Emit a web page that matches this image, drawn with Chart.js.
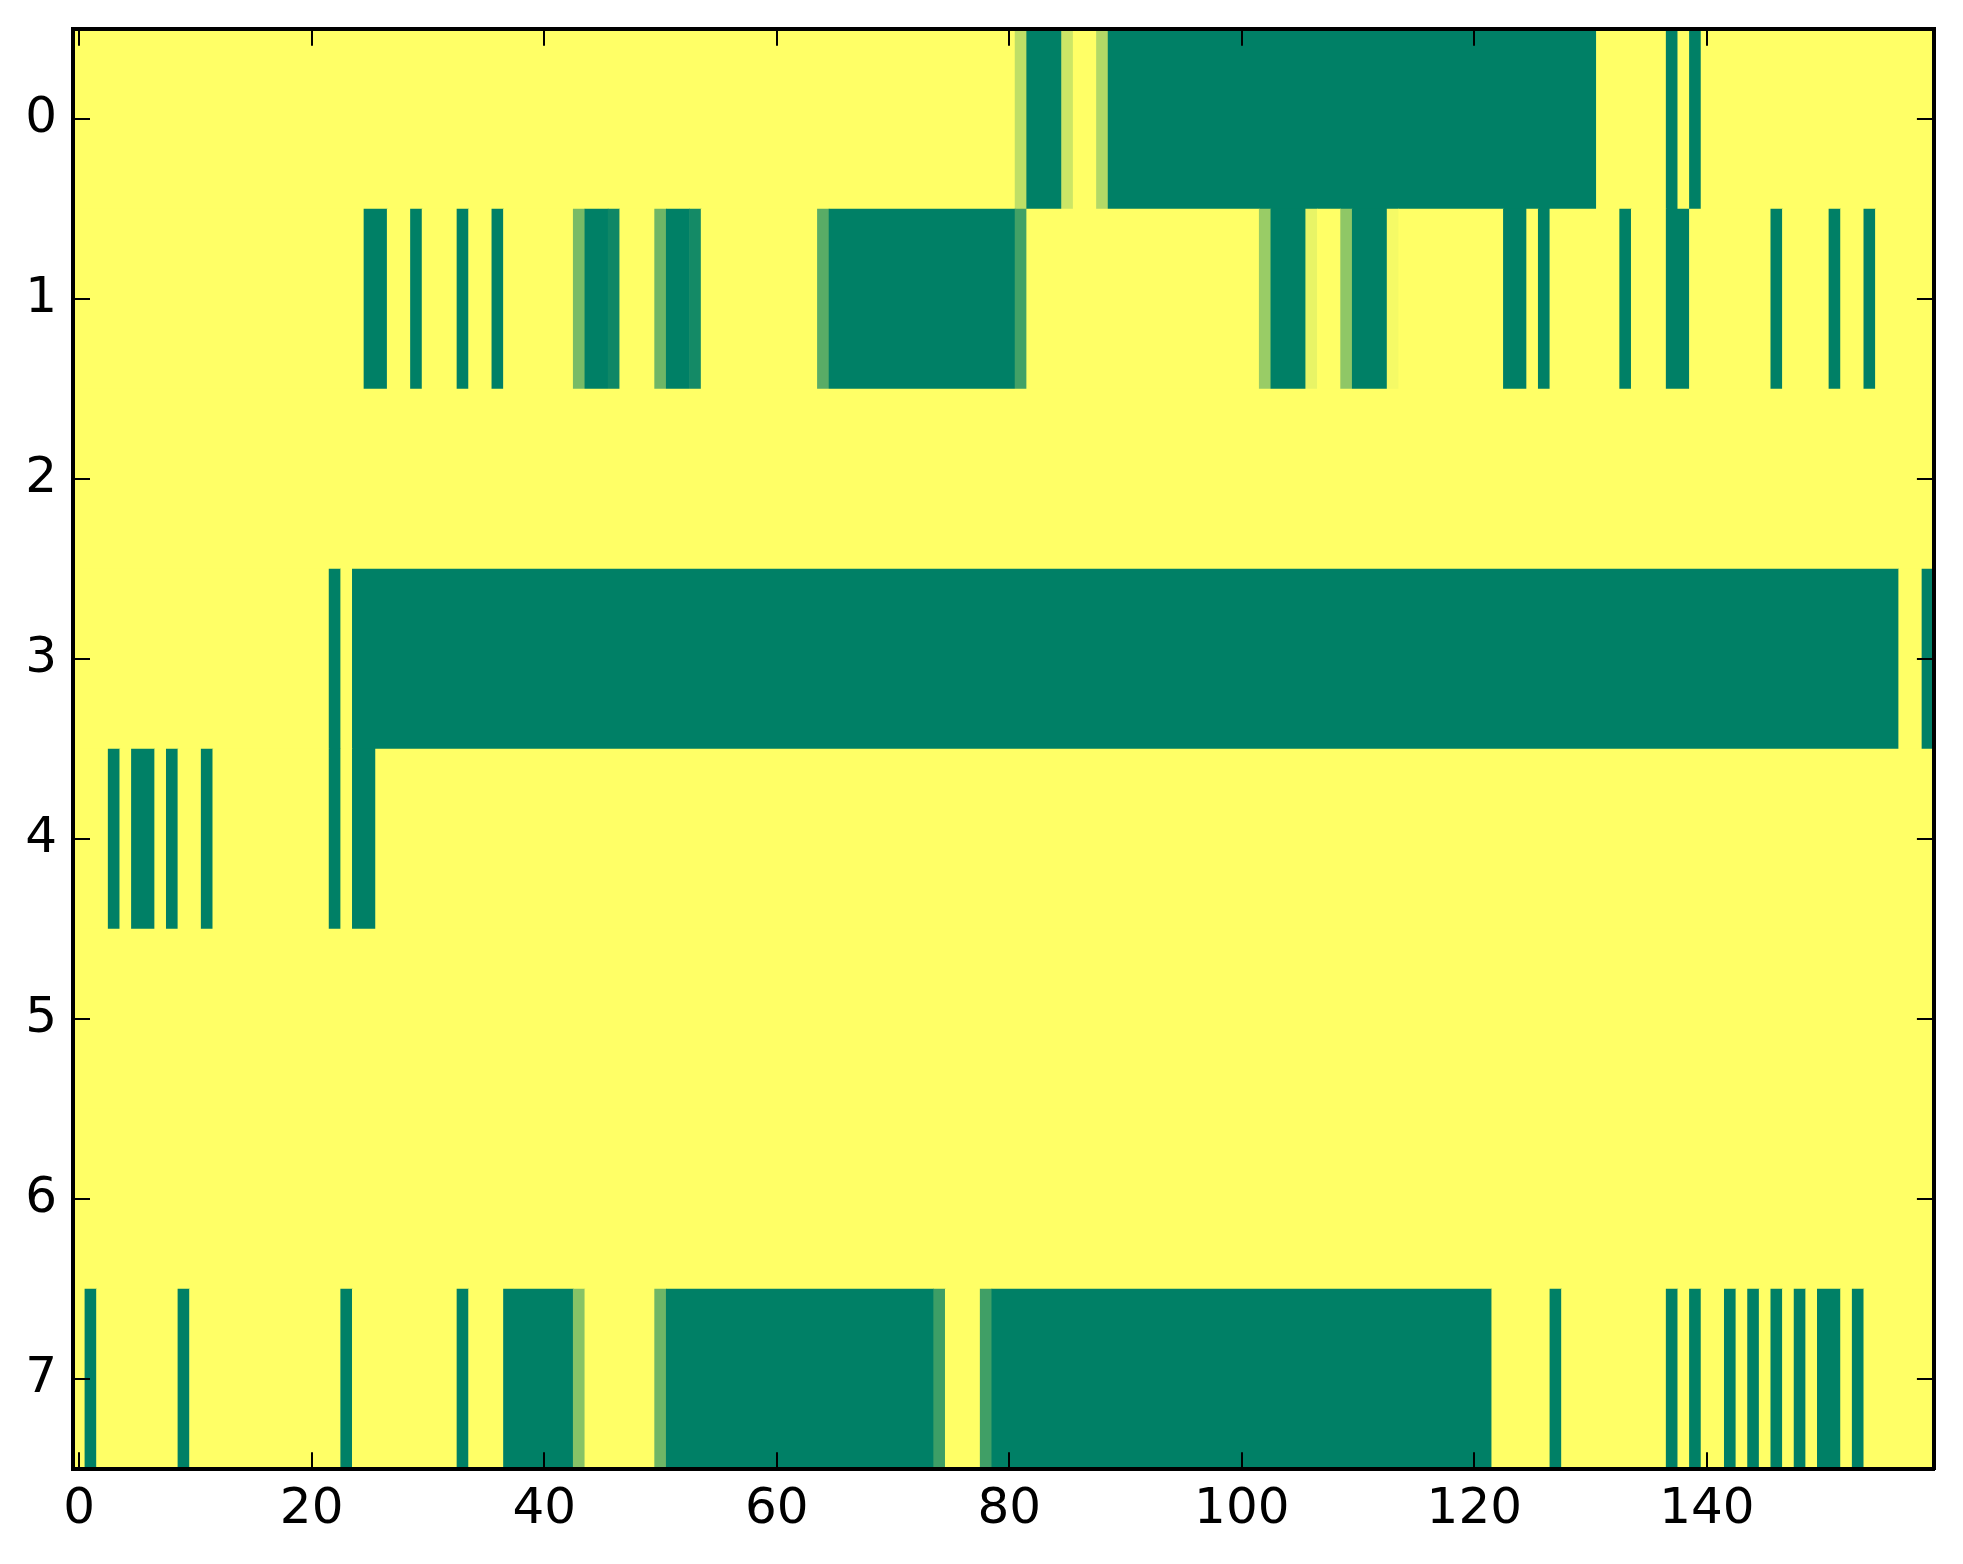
<!DOCTYPE html>
<html>
<head>
<meta charset="utf-8">
<script src="https://cdn.jsdelivr.net/npm/chart.js@4/dist/chart.umd.min.js"></script>
<style>
html,body{margin:0;padding:0;background:#ffffff;}
#wrap{width:1963px;height:1564px;}
</style>
</head>
<body>
<div id="wrap"><canvas id="c" width="1963" height="1564"></canvas></div>
<script>
// Row labels (y categories) and x tick values
const rowLabels = ['0','1','2','3','4','5','6','7'];
const xTicks = [0,20,40,60,80,100,120,140];

// Cell values (0 = green, 1 = yellow, "summer" colormap), 160 columns per row
const row0 = [
1,1,1,1,1,1,1,1,1,1, 1,1,1,1,1,1,1,1,1,1, 1,1,1,1,1,1,1,1,1,1, 1,1,1,1,1,1,1,1,1,1,
1,1,1,1,1,1,1,1,1,1, 1,1,1,1,1,1,1,1,1,1, 1,1,1,1,1,1,1,1,1,1, 1,1,1,1,1,1,1,1,1,1,
1,0.75,0,0,0,0.8,1,1,0.7,0, 0,0,0,0,0,0,0,0,0,0, 0,0,0,0,0,0,0,0,0,0, 0,0,0,0,0,0,0,0,0,0,
0,0,0,0,0,0,0,0,0,0, 0,1,1,1,1,1,1,0,1,0, 1,1,1,1,1,1,1,1,1,1, 1,1,1,1,1,1,1,1,1,1
];
const row1 = [
1,1,1,1,1,1,1,1,1,1, 1,1,1,1,1,1,1,1,1,1, 1,1,1,1,1,0,0,1,1,0, 1,1,1,0,1,1,0,1,1,1,
1,1,1,0.47,0,0,0.06,1,1,1, 0.43,0,0,0.08,1,1,1,1,1,1, 1,1,1,1,0.35,0,0,0,0,0, 0,0,0,0,0,0,0,0,0,0,
0,0.26,1,1,1,1,1,1,1,1, 1,1,1,1,1,1,1,1,1,1, 1,1,0.6,0,0,0,0.91,1,1,0.56, 0,0,0,0.96,1,1,1,1,1,1,
1,1,1,0,0,1,0,1,1,1, 1,1,1,0,1,1,1,0,0,1, 1,1,1,1,1,1,0,1,1,1, 1,0,1,1,0,1,1,1,1,1
];
const row2 = [
1,1,1,1,1,1,1,1,1,1, 1,1,1,1,1,1,1,1,1,1, 1,1,1,1,1,1,1,1,1,1, 1,1,1,1,1,1,1,1,1,1,
1,1,1,1,1,1,1,1,1,1, 1,1,1,1,1,1,1,1,1,1, 1,1,1,1,1,1,1,1,1,1, 1,1,1,1,1,1,1,1,1,1,
1,1,1,1,1,1,1,1,1,1, 1,1,1,1,1,1,1,1,1,1, 1,1,1,1,1,1,1,1,1,1, 1,1,1,1,1,1,1,1,1,1,
1,1,1,1,1,1,1,1,1,1, 1,1,1,1,1,1,1,1,1,1, 1,1,1,1,1,1,1,1,1,1, 1,1,1,1,1,1,1,1,1,1
];
const row3 = [
1,1,1,1,1,1,1,1,1,1, 1,1,1,1,1,1,1,1,1,1, 1,1,0,1,0,0,0,0,0,0, 0,0,0,0,0,0,0,0,0,0,
0,0,0,0,0,0,0,0,0,0, 0,0,0,0,0,0,0,0,0,0, 0,0,0,0,0,0,0,0,0,0, 0,0,0,0,0,0,0,0,0,0,
0,0,0,0,0,0,0,0,0,0, 0,0,0,0,0,0,0,0,0,0, 0,0,0,0,0,0,0,0,0,0, 0,0,0,0,0,0,0,0,0,0,
0,0,0,0,0,0,0,0,0,0, 0,0,0,0,0,0,0,0,0,0, 0,0,0,0,0,0,0,0,0,0, 0,0,0,0,0,0,0,1,1,0
];
const row4 = [
1,1,1,0,1,0,0,1,0,1, 1,0,1,1,1,1,1,1,1,1, 1,1,0,1,0,0,1,1,1,1, 1,1,1,1,1,1,1,1,1,1,
1,1,1,1,1,1,1,1,1,1, 1,1,1,1,1,1,1,1,1,1, 1,1,1,1,1,1,1,1,1,1, 1,1,1,1,1,1,1,1,1,1,
1,1,1,1,1,1,1,1,1,1, 1,1,1,1,1,1,1,1,1,1, 1,1,1,1,1,1,1,1,1,1, 1,1,1,1,1,1,1,1,1,1,
1,1,1,1,1,1,1,1,1,1, 1,1,1,1,1,1,1,1,1,1, 1,1,1,1,1,1,1,1,1,1, 1,1,1,1,1,1,1,1,1,1
];
const row5 = [
1,1,1,1,1,1,1,1,1,1, 1,1,1,1,1,1,1,1,1,1, 1,1,1,1,1,1,1,1,1,1, 1,1,1,1,1,1,1,1,1,1,
1,1,1,1,1,1,1,1,1,1, 1,1,1,1,1,1,1,1,1,1, 1,1,1,1,1,1,1,1,1,1, 1,1,1,1,1,1,1,1,1,1,
1,1,1,1,1,1,1,1,1,1, 1,1,1,1,1,1,1,1,1,1, 1,1,1,1,1,1,1,1,1,1, 1,1,1,1,1,1,1,1,1,1,
1,1,1,1,1,1,1,1,1,1, 1,1,1,1,1,1,1,1,1,1, 1,1,1,1,1,1,1,1,1,1, 1,1,1,1,1,1,1,1,1,1
];
const row6 = [
1,1,1,1,1,1,1,1,1,1, 1,1,1,1,1,1,1,1,1,1, 1,1,1,1,1,1,1,1,1,1, 1,1,1,1,1,1,1,1,1,1,
1,1,1,1,1,1,1,1,1,1, 1,1,1,1,1,1,1,1,1,1, 1,1,1,1,1,1,1,1,1,1, 1,1,1,1,1,1,1,1,1,1,
1,1,1,1,1,1,1,1,1,1, 1,1,1,1,1,1,1,1,1,1, 1,1,1,1,1,1,1,1,1,1, 1,1,1,1,1,1,1,1,1,1,
1,1,1,1,1,1,1,1,1,1, 1,1,1,1,1,1,1,1,1,1, 1,1,1,1,1,1,1,1,1,1, 1,1,1,1,1,1,1,1,1,1
];
const row7 = [
1,0,1,1,1,1,1,1,1,0, 1,1,1,1,1,1,1,1,1,1, 1,1,1,0,1,1,1,1,1,1, 1,1,1,0,1,1,1,0,0,0,
0,0,0,0.53,1,1,1,1,1,1, 0.43,0,0,0,0,0,0,0,0,0, 0,0,0,0,0,0,0,0,0,0, 0,0,0,0,0.24,1,1,1,0.25,0,
0,0,0,0,0,0,0,0,0,0, 0,0,0,0,0,0,0,0,0,0, 0,0,0,0,0,0,0,0,0,0, 0,0,0,0,0,0,0,0,0,0,
0,0,1,1,1,1,1,0,1,1, 1,1,1,1,1,1,1,0,1,0, 1,1,0,1,0,1,0,1,0,1, 0,0,1,0,1,1,1,1,1,1
];
const rows = [row0,row1,row2,row3,row4,row5,row6,row7];

// matplotlib "summer" colormap
function summer(v){
  const r = Math.round(255*v);
  const g = Math.round(127.5 + 127.5*v);
  return 'rgb(' + r + ',' + g + ',102)';
}

// merge consecutive equal cells into floating bars (avoids anti-aliasing seams)
const cells = [];
rows.forEach(function(vals, r){
  let start = 0;
  for (let c = 1; c <= vals.length; c++) {
    if (c === vals.length || vals[c] !== vals[start]) {
      cells.push({y: rowLabels[r], x: [start - 0.5, c - 0.5], v: vals[start]});
      start = c;
    }
  }
});

const nCols = row0.length;
const tickFont = {family: 'DejaVu Sans', size: 50};
const gridOpts = {drawOnChartArea: false, drawTicks: true, tickLength: -16.7, lineWidth: 2, color: '#000000', z: 1};
const borderOpts = {display: true, width: 4, color: '#000000', z: 1};
function noPad(s){ s.paddingTop = 0; s.paddingBottom = 0; s.paddingLeft = 0; s.paddingRight = 0; }

new Chart(document.getElementById('c'), {
  type: 'bar',
  data: {
    labels: rowLabels,
    datasets: [{
      data: cells,
      backgroundColor: function(ctx){ return summer(ctx.raw ? ctx.raw.v : 1); },
      borderWidth: 0,
      barPercentage: 1,
      categoryPercentage: 1
    }]
  },
  options: {
    indexAxis: 'y',
    responsive: false,
    animation: false,
    devicePixelRatio: 1,
    layout: {padding: 0},
    plugins: {legend: {display: false}, tooltip: {enabled: false}},
    scales: {
      x: {
        type: 'linear', position: 'bottom', bounds: 'data',
        min: -0.5, max: nCols - 0.5,
        afterBuildTicks: function(s){ s.ticks = xTicks.map(function(v){ return {value: v}; }); },
        afterFit: function(s){ s.height = 95; noPad(s); },
        ticks: {font: tickFont, color: '#000000', padding: 28, maxRotation: 0, autoSkip: false},
        grid: gridOpts, border: borderOpts
      },
      x2: {
        type: 'linear', position: 'top', bounds: 'data',
        min: -0.5, max: nCols - 0.5,
        afterBuildTicks: function(s){ s.ticks = xTicks.map(function(v){ return {value: v}; }); },
        afterFit: function(s){ s.height = 29; noPad(s); },
        ticks: {display: false},
        grid: gridOpts, border: borderOpts
      },
      y: {
        type: 'category', position: 'left', labels: rowLabels, offset: true,
        afterFit: function(s){ s.width = 73.3; noPad(s); },
        ticks: {font: tickFont, color: '#000000', padding: 33},
        grid: Object.assign({}, gridOpts, {offset: false}), border: borderOpts
      },
      y2: {
        type: 'category', position: 'right', labels: rowLabels, offset: true,
        afterFit: function(s){ s.width = 29.4; noPad(s); },
        ticks: {display: false},
        grid: Object.assign({}, gridOpts, {offset: false}), border: borderOpts
      }
    }
  }
});
</script>
</body>
</html>
